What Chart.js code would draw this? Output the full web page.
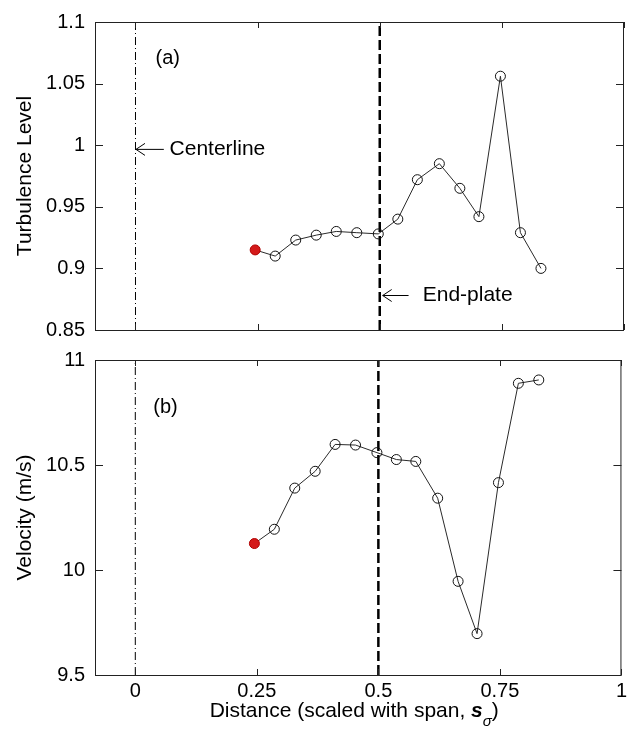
<!DOCTYPE html>
<html>
<head>
<meta charset="utf-8">
<script src="https://cdn.jsdelivr.net/npm/chart.js@4.4.0/dist/chart.umd.min.js"></script>
<style>
  html, body { margin: 0; padding: 0; background: #fff; }
  #wrap { position: relative; width: 631px; height: 734px; overflow: hidden; }
  canvas { position: absolute; left: 0; }
  #top { top: 0; }
  #bot { top: 338px; }
</style>
</head>
<body>
<div id="wrap">
  <canvas id="top" width="631" height="352"></canvas>
  <canvas id="bot" width="631" height="396"></canvas>
</div>
<script>
var distance = [0.245, 0.286, 0.328, 0.370, 0.411, 0.453, 0.497, 0.537, 0.577, 0.622, 0.664, 0.703, 0.747, 0.788, 0.830];
var turbulence = [0.915, 0.910, 0.923, 0.927, 0.930, 0.929, 0.928, 0.940, 0.972, 0.985, 0.965, 0.942, 1.056, 0.929, 0.900];
var velocity = [10.126, 10.194, 10.390, 10.470, 10.598, 10.595, 10.559, 10.526, 10.517, 10.342, 9.946, 9.697, 10.416, 10.889, 10.905];

var xTicks = [0, 0.25, 0.5, 0.75, 1];
var turbTicks = [0.85, 0.9, 0.95, 1, 1.05, 1.1];
var velTicks = [9.5, 10, 10.5, 11];

var centerlineX = 0;
var endPlateX = 0.5;

var FONT = "'Liberation Sans', Arial, sans-serif";
var RED = '#d41a1a';
var X_MIN = -0.0829;

function pts(ys) {
  return distance.map(function (d, i) { return { x: d, y: ys[i] }; });
}

function vline(x, yTicks, dash, width) {
  return {
    data: [{ x: x, y: yTicks[0] }, { x: x, y: yTicks[yTicks.length - 1] }],
    borderColor: '#000',
    borderWidth: width,
    borderDash: dash,
    pointRadius: 0,
    fill: false
  };
}

function seriesDataset(ys) {
  return {
    data: pts(ys),
    borderColor: '#2a2a2a',
    borderWidth: 1,
    pointRadius: 5,
    pointBorderWidth: 1,
    pointBackgroundColor: ys.map(function (v, i) { return i === 0 ? RED : 'rgba(0,0,0,0)'; }),
    pointBorderColor: ys.map(function (v, i) { return i === 0 ? '#b00000' : '#111'; }),
    tension: 0,
    fill: false
  };
}

// box + inward ticks like the original plot
var framePlugin = {
  id: 'frame',
  afterDatasetsDraw: function (chart) {
    var ctx = chart.ctx, a = chart.chartArea;
    var xs = chart.scales.x, ys = chart.scales.y;
    ctx.save();
    ctx.strokeStyle = '#222';
    ctx.lineWidth = 1;
    ctx.strokeRect(a.left + 0.5, a.top + 0.5, a.right - a.left - 1, a.bottom - a.top);
    ctx.beginPath();
    xTicks.forEach(function (t) {
      var px = Math.round(xs.getPixelForValue(t)) + 0.5;
      ctx.moveTo(px, a.top); ctx.lineTo(px, a.top + 6);
      ctx.moveTo(px, a.bottom); ctx.lineTo(px, a.bottom - 6);
    });
    chart.options.yTickList.forEach(function (t) {
      var py = Math.round(ys.getPixelForValue(t)) + 0.5;
      ctx.moveTo(a.left, py); ctx.lineTo(a.left + 8, py);
      ctx.moveTo(a.right, py); ctx.lineTo(a.right - 8, py);
    });
    ctx.stroke();
    ctx.restore();
  }
};

function arrowNote(chart, tipX, tailX, textX, y, text) {
  var ctx = chart.ctx, xs = chart.scales.x, ys = chart.scales.y;
  var x0 = xs.getPixelForValue(tipX), x1 = xs.getPixelForValue(tailX);
  var py = ys.getPixelForValue(y);
  ctx.save();
  ctx.strokeStyle = '#000';
  ctx.lineWidth = 1;
  ctx.beginPath();
  ctx.moveTo(x0, py); ctx.lineTo(x1, py);
  ctx.moveTo(x0 + 9, py - 6); ctx.lineTo(x0, py); ctx.lineTo(x0 + 9, py + 6);
  ctx.stroke();
  ctx.fillStyle = '#000';
  ctx.font = '21px ' + FONT;
  ctx.textBaseline = 'middle';
  ctx.textAlign = 'left';
  ctx.fillText(text, xs.getPixelForValue(textX), py);
  ctx.restore();
}

function panelLabel(chart, x, y, text) {
  var ctx = chart.ctx;
  ctx.save();
  ctx.fillStyle = '#000';
  ctx.font = '20px ' + FONT;
  ctx.textBaseline = 'middle';
  ctx.fillText(text, chart.scales.x.getPixelForValue(x), chart.scales.y.getPixelForValue(y));
  ctx.restore();
}

var topNotes = {
  id: 'topNotes',
  afterDraw: function (chart) {
    panelLabel(chart, 0.041, 1.0704, '(a)');
    arrowNote(chart, 0.001, 0.058, 0.0697, 0.9966, 'Centerline');
    arrowNote(chart, 0.506, 0.559, 0.588, 0.878, 'End-plate');
  }
};

var botNotes = {
  id: 'botNotes',
  afterDraw: function (chart) {
    panelLabel(chart, 0.037, 10.776, '(b)');
    // x-axis title with italic s and subscript sigma
    var ctx = chart.ctx, a = chart.chartArea;
    var base = a.bottom + 42;
    var part1 = 'Distance (scaled with span, ';
    ctx.save();
    ctx.fillStyle = '#000';
    ctx.textBaseline = 'alphabetic';
    ctx.textAlign = 'left';
    ctx.font = '21px ' + FONT;
    var w1 = ctx.measureText(part1).width;
    var w4 = ctx.measureText(')').width;
    ctx.font = 'italic bold 21px ' + FONT;
    var w2 = ctx.measureText('s').width;
    ctx.font = 'italic 15px ' + FONT;
    var w3 = ctx.measureText('\u03c3').width;
    var total = w1 + w2 + w3 + w4;
    var x = (a.left + a.right) / 2 - total / 2 - 4;
    ctx.font = '21px ' + FONT;
    ctx.fillText(part1, x, base);
    ctx.font = 'italic bold 21px ' + FONT;
    ctx.fillText('s', x + w1, base);
    ctx.font = 'italic 15px ' + FONT;
    ctx.fillText('\u03c3', x + w1 + w2, base + 9);
    ctx.font = '21px ' + FONT;
    ctx.fillText(')', x + w1 + w2 + w3, base);
    ctx.restore();
  }
};

function yScale(ticks, title) {
  return {
    type: 'linear',
    min: ticks[0],
    max: ticks[ticks.length - 1],
    afterBuildTicks: function (s) { s.ticks = ticks.map(function (v) { return { value: v }; }); },
    afterFit: function (s) { s.width = 85; },
    grid: { display: false, drawTicks: false },
    border: { display: false },
    ticks: {
      padding: 10,
      color: '#000',
      font: { family: FONT, size: 20 },
      callback: function (v) { return String(v); }
    },
    title: {
      display: true,
      text: title,
      color: '#000',
      font: { family: FONT, size: 21 },
      padding: { top: 3, bottom: 0 }
    }
  };
}

var common = {
  responsive: false,
  devicePixelRatio: 1,
  animation: false,
  plugins: { legend: { display: false }, tooltip: { enabled: false } }
};

new Chart(document.getElementById('top'), {
  type: 'line',
  data: {
    datasets: [
      seriesDataset(turbulence),
      vline(centerlineX, turbTicks, [8, 3, 1, 3], 1),
      vline(endPlateX, turbTicks, [10, 4], 2.5)
    ]
  },
  options: Object.assign({}, common, {
    yTickList: turbTicks,
    layout: { padding: { left: 10, right: 7, top: 18, bottom: 13 } },
    scales: {
      x: { type: 'linear', min: X_MIN, max: 1, display: false },
      y: yScale(turbTicks, 'Turbulence Level')
    }
  }),
  plugins: [framePlugin, topNotes]
});

new Chart(document.getElementById('bot'), {
  type: 'line',
  data: {
    datasets: [
      seriesDataset(velocity),
      vline(centerlineX, velTicks, [8, 3, 1, 3], 1),
      vline(endPlateX, velTicks, [10, 4], 2.5)
    ]
  },
  options: Object.assign({}, common, {
    yTickList: velTicks,
    layout: { padding: { left: 10, right: 7, top: 15, bottom: 0 } },
    scales: {
      x: {
        type: 'linear',
        min: X_MIN,
        max: 1,
        afterBuildTicks: function (s) { s.ticks = xTicks.map(function (v) { return { value: v }; }); },
        afterFit: function (s) { s.height = 59; },
        grid: { display: false, drawTicks: false },
        border: { display: false },
        ticks: {
          padding: 4,
          color: '#000',
          maxRotation: 0,
          font: { family: FONT, size: 20 },
          callback: function (v) { return String(v); }
        }
      },
      y: yScale(velTicks, 'Velocity (m/s)')
    }
  }),
  plugins: [framePlugin, botNotes]
});
</script>
</body>
</html>
